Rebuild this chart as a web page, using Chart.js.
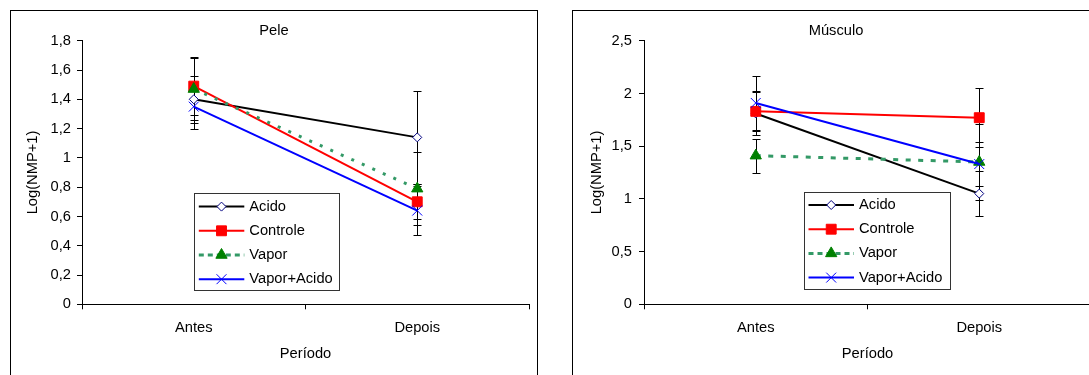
<!DOCTYPE html>
<html>
<head>
<meta charset="utf-8">
<script src="https://cdn.jsdelivr.net/npm/chart.js@4.4.1/dist/chart.umd.min.js"></script>
<style>
  body { margin: 0; width: 1089px; height: 375px; overflow: hidden; background: #fff; position: relative; }
  .frame { position: absolute; top: 10px; width: 526px; height: 380px; border: 1px solid #000; background: #fff; }
  #framePele { left: 10px; }
  #frameMusculo { left: 572px; }
  canvas { display: block; }
</style>
</head>
<body>
<div class="frame" id="framePele"><canvas id="peleChart" width="526" height="370"></canvas></div>
<div class="frame" id="frameMusculo"><canvas id="musculoChart" width="526" height="370"></canvas></div>
<script>
const categories = ['Antes', 'Depois'];
const seriesNames = ['Acido', 'Controle', 'Vapor', 'Vapor+Acido'];

// Pele
const peleAcido = [1.40, 1.14];
const peleControle = [1.49, 0.70];
const peleVapor = [1.47, 0.79];
const peleVaporAcido = [1.35, 0.64];
const peleAcidoErr = [0.16, 0.32];
const peleControleErr = [0.20, 0.12];
const peleVaporErr = [0.21, 0.25];
const peleVaporAcidoErr = [0.15, 0.165];
const peleTicks = [0, 0.2, 0.4, 0.6, 0.8, 1, 1.2, 1.4, 1.6, 1.8];
const peleTickLabels = ['0', '0,2', '0,4', '0,6', '0,8', '1', '1,2', '1,4', '1,6', '1,8'];

// Músculo
const musculoAcido = [1.81, 1.05];
const musculoControle = [1.83, 1.77];
const musculoVapor = [1.41, 1.35];
const musculoVaporAcido = [1.91, 1.33];
const musculoAcidoErr = [0.20, 0.21];
const musculoControleErr = [0.19, 0.28];
const musculoVaporErr = [0.16, 0.36];
const musculoVaporAcidoErr = [0.26, 0.21];
const musculoTicks = [0, 0.5, 1, 1.5, 2, 2.5];
const musculoTickLabels = ['0', '0,5', '1', '1,5', '2', '2,5'];

const FONT = "'Liberation Sans', Arial, sans-serif";
const FONT_SIZE = 14.7;
Chart.defaults.font.family = FONT;
Chart.defaults.font.size = FONT_SIZE;
Chart.defaults.color = '#000';

// line / marker look of each series, same order as seriesNames
const seriesStyles = [
  { borderColor: '#000000', borderWidth: 2, pointStyle: 'rectRot', pointRadius: 4.5,
    pointBackgroundColor: '#ffffff', pointBorderColor: '#000080', pointBorderWidth: 1 },
  { borderColor: '#ff0000', borderWidth: 2, pointStyle: 'rect', pointRadius: 7,
    pointBackgroundColor: '#ff0000', pointBorderColor: '#ff0000', pointBorderWidth: 1 },
  { borderColor: '#339966', borderWidth: 3, borderDash: [5, 7.5], legendDash: [5, 4], pointStyle: 'triangle', pointRadius: 6.5,
    pointBackgroundColor: '#008000', pointBorderColor: '#008000', pointBorderWidth: 1 },
  { borderColor: '#0000ff', borderWidth: 2, pointStyle: 'crossRot', pointRadius: 7,
    pointBackgroundColor: '#0000ff', pointBorderColor: '#0000ff', pointBorderWidth: 1 }
];

// vertical error bars with small caps, drawn under the lines
const errorBars = {
  id: 'errorBars',
  beforeDatasetsDraw(chart) {
    const ctx = chart.ctx;
    const yScale = chart.scales.y;
    ctx.save();
    ctx.strokeStyle = '#000';
    ctx.lineWidth = 1;
    chart.data.datasets.forEach((ds, i) => {
      const meta = chart.getDatasetMeta(i);
      meta.data.forEach((pt, j) => {
        const v = ds.data[j], e = ds.errors[j];
        const x = Math.round(pt.x) + 0.5;
        const top = Math.round(yScale.getPixelForValue(v + e)) + 0.5;
        const bot = Math.round(yScale.getPixelForValue(v - e)) + 0.5;
        ctx.beginPath();
        ctx.moveTo(x, top); ctx.lineTo(x, bot);
        ctx.moveTo(x - 4, top); ctx.lineTo(x + 4, top);
        ctx.moveTo(x - 4, bot); ctx.lineTo(x + 4, bot);
        ctx.stroke();
      });
    });
    ctx.restore();
  }
};

// boxed legend inside the plot, like the spreadsheet one
const boxLegend = {
  id: 'boxLegend',
  afterDraw(chart, args, opts) {
    const ctx = chart.ctx;
    const { x, y, w, h } = opts;
    ctx.save();
    ctx.fillStyle = '#fff';
    ctx.fillRect(x, y, w, h);
    ctx.strokeStyle = '#333';
    ctx.lineWidth = 1;
    ctx.strokeRect(Math.round(x) + 0.5, Math.round(y) + 0.5, Math.round(w), Math.round(h));
    ctx.font = FONT_SIZE + 'px ' + FONT;
    ctx.textBaseline = 'middle';
    chart.data.datasets.forEach((ds, i) => {
      const ry = y + 13.3 + i * 24.2;
      ctx.strokeStyle = ds.borderColor;
      ctx.lineWidth = ds.borderWidth;
      ctx.setLineDash(ds.legendDash || []);
      ctx.beginPath();
      ctx.moveTo(x + 4.5, ry);
      ctx.lineTo(x + 50, ry);
      ctx.stroke();
      ctx.setLineDash([]);
      ctx.fillStyle = ds.pointBackgroundColor;
      ctx.strokeStyle = ds.pointBorderColor;
      ctx.lineWidth = ds.pointBorderWidth;
      Chart.helpers.drawPoint(ctx, {
        pointStyle: ds.pointStyle, radius: ds.pointRadius,
        borderWidth: ds.pointBorderWidth, rotation: 0
      }, x + 27.2, ry);
      ctx.fillStyle = '#000';
      ctx.fillText(ds.label, x + 55, ry);
    });
    ctx.restore();
  }
};

function makeChart(id, title, series, errs, ticks, tickLabels, box) {
  const datasets = series.map((data, i) => {
    const ds = Object.assign({
      label: seriesNames[i],
      data: data,
      errors: errs[i],
      tension: 0,
      fill: false,
      order: series.length - i
    }, seriesStyles[i]);
    if (ds.borderDash && box.dash) ds.borderDash = box.dash;
    return ds;
  });

  return new Chart(document.getElementById(id), {
    type: 'line',
    data: { labels: categories, datasets: datasets },
    plugins: [errorBars, boxLegend],
    options: {
      responsive: false,
      animation: false,
      devicePixelRatio: 1,
      layout: { padding: 0 },
      plugins: {
        legend: { display: false },
        tooltip: { enabled: false },
        title: {
          display: true, text: title, color: '#000',
          font: { size: FONT_SIZE, weight: 'normal' },
          padding: { top: 10.9, bottom: 1.2 }
        },
        boxLegend: box.legend
      },
      scales: {
        x: {
          offset: true,
          grid: { offset: true, drawOnChartArea: false, drawTicks: true, tickLength: 5, color: '#000' },
          border: { display: true, color: '#000', width: 1 },
          ticks: { padding: 10, color: '#000' },
          title: { display: true, text: 'Período', color: '#000', padding: { top: 0, bottom: 18.2 } },
          afterFit(s) { s.height = 76.7; }
        },
        y: {
          min: ticks[0],
          max: ticks[ticks.length - 1],
          afterBuildTicks(s) { s.ticks = ticks.map(v => ({ value: v })); },
          grid: { drawOnChartArea: false, drawTicks: true, tickLength: 5, color: '#000' },
          border: { display: true, color: '#000', width: 1 },
          ticks: { padding: box.tickPad, color: '#000', callback: (v, i) => tickLabels[i] },
          title: { display: true, text: 'Log(NMP+1)', color: '#000', padding: { top: box.titlePad, bottom: 0 } },
          afterFit(s) { s.width = 71; }
        }
      }
    }
  });
}

makeChart('peleChart', 'Pele',
  [peleAcido, peleControle, peleVapor, peleVaporAcido],
  [peleAcidoErr, peleControleErr, peleVaporErr, peleVaporAcidoErr],
  peleTicks, peleTickLabels,
  { tickPad: 6, titlePad: 13.2, dash: [3, 8.5], legend: { x: 183.3, y: 182.3, w: 145, h: 97 } });

makeChart('musculoChart', 'Músculo',
  [musculoAcido, musculoControle, musculoVapor, musculoVaporAcido],
  [musculoAcidoErr, musculoControleErr, musculoVaporErr, musculoVaporAcidoErr],
  musculoTicks, musculoTickLabels,
  { tickPad: 7, titlePad: 15.2, dash: [5, 7.5], legend: { x: 231, y: 180.7, w: 146, h: 97 } });
</script>
</body>
</html>
